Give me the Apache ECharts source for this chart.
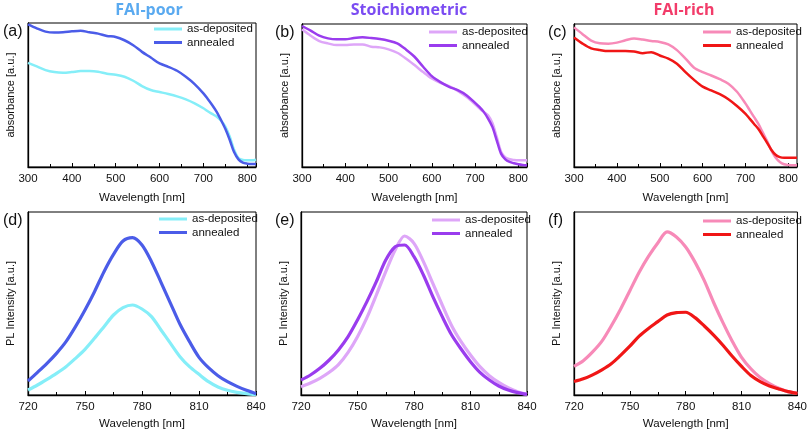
<!DOCTYPE html>
<html>
<head>
<meta charset="utf-8">
<script src="https://cdn.jsdelivr.net/npm/echarts@6/dist/echarts.min.js"></script>
<style>html,body{margin:0;padding:0;background:#fff;}#c{width:810px;height:433px;}</style>
</head>
<body>
<div id="c"></div>
<script>
// ---- Absorbance data (arbitrary units) ----
var absWL = [300,320,340,360,380,400,420,440,460,480,500,520,540,560,580,600,620,640,660,680,700,710,720,730,740,750,760,770,780,790,800,810,820];
var aAsDep = [314,303,292,286,284,286,289,289,287,281,278,272,260,244,232,226,220,213,204,192,177,168,160,152,140,122,92,52,27,21,20,20,22];
var aAnn   = [430,418,408,405,406,409,411,406,402,395,392,382,367,347,330,312,302,290,272,250,222,205,187,167,142,115,82,45,23,13,10,9,9];
var bAsDep = [412,393,377,370,365,365,367,367,360,358,352,342,325,305,284,265,252,242,228,210,188,176,165,155,132,90,46,29,23,21,20,20,20];
var bAnn   = [422,408,393,385,382,382,386,388,386,383,378,370,352,330,300,272,254,240,230,215,192,180,165,145,120,80,40,23,15,11,8,6,5];
var cAsDep = [412,392,373,365,364,367,374,379,376,372,369,362,345,320,293,280,270,259,246,222,187,167,147,127,102,77,50,28,15,8,6,5,5];
var cAnn   = [382,364,350,345,342,342,342,341,336,339,329,320,305,280,257,237,226,215,200,180,157,142,127,112,92,72,51,36,29,27,27,27,27];

// ---- PL data (arbitrary units) ----
var plWL = [720,725,730,735,740,745,750,755,760,765,770,775,780,785,790,795,800,805,810,815,820,825,830,835,840];
var dAsDep = [15,30,47,65,85,110,137,170,205,240,262,270,258,235,195,155,115,85,62,40,24,14,8,4,1];
var dAnn   = [42,68,95,125,160,205,255,310,370,422,462,472,450,400,338,275,212,160,113,82,58,40,26,14,4];
var eAsDep = [25,36,50,68,92,128,175,232,300,370,435,477,455,400,335,270,208,160,120,85,58,38,22,10,2];
var eAnn   = [45,60,80,105,136,175,225,280,340,405,445,450,415,360,295,235,180,138,100,68,45,27,15,7,2];
var fAsDep = [85,102,128,160,205,255,310,365,412,452,485,470,440,395,340,275,215,160,112,78,52,34,20,10,5];
var fAnn   = [40,48,60,75,93,118,145,175,198,218,238,245,246,230,205,178,148,115,85,58,40,27,18,10,5];

var absTicks = {min:300, max:820, interval:100};
var plTicks = {min:720, max:840, interval:30};
var panelTitles = ['FAI-poor','Stoichiometric','FAI-rich'];
var panelLetters = ['(a)','(b)','(c)','(d)','(e)','(f)'];
var seriesNames = ['as-deposited','annealed'];

var colors = [
  ['#85eef8','#4b5ce8'],
  ['#dea6f8','#9a3cee'],
  ['#f78ab8','#f01616']
];
var titleColors = ['#5aaaf0','#7b4cf2','#f23c6a'];

var grids = [
  {left:28, top:23, width:228, height:144},
  {left:302, top:24, width:225, height:143},
  {left:574, top:24, width:223, height:143},
  {left:28, top:212, width:228, height:183},
  {left:301, top:212, width:226, height:183},
  {left:574, top:212, width:225, height:183}
];
var yMax = [434, 428, 422, 549, 549, 544];
var legendPos = [[154,23],[429,26],[703,26],[159,213],[432,214],[703,215]];
var absSets = [[aAsDep,aAnn],[bAsDep,bAnn],[cAsDep,cAnn]];
var plSets = [[dAsDep,dAnn],[eAsDep,eAnn],[fAsDep,fAnn]];

var FONT = 'Liberation Sans, Arial, sans-serif';
var xAxes = [], yAxes = [], series = [], legends = [];
for (var i = 0; i < 6; i++) {
  var isAbs = i < 3;
  var t = isAbs ? absTicks : plTicks;
  grids[i].show = true;
  grids[i].borderColor = '#000';
  grids[i].borderWidth = 1;
  grids[i].containLabel = false;
  xAxes.push({
    type:'value', gridIndex:i, min:t.min, max:t.max, interval:t.interval,
    name:'Wavelength [nm]', nameLocation:'middle', nameGap: isAbs ? 25 : 23,
    nameTextStyle:{fontFamily:FONT, fontSize:11.5, color:'#111'},
    axisLine:{show:true, onZero:false, lineStyle:{color:'#000', width:1.3}},
    axisTick:{show:true, inside:true, length:4, lineStyle:{color:'#000', width:1}},
    minorTick:{show:true, splitNumber:2, length:3, lineStyle:{color:'#000', width:1}},
    axisLabel:{fontFamily:FONT, fontSize:11.5, color:'#111', margin:6, showMaxLabel: !isAbs},
    splitLine:{show:false}
  });
  yAxes.push({
    type:'value', gridIndex:i, min:0, max:yMax[i],
    name: isAbs ? 'absorbance [a.u.]' : 'PL Intensity [a.u.]',
    nameLocation:'middle', nameGap:12, nameRotate:90,
    nameTextStyle:{fontFamily:FONT, fontSize:11, color:'#111'},
    axisLine:{show:true, lineStyle:{color:'#000', width:1.3}},
    axisTick:{show:false}, axisLabel:{show:false}, splitLine:{show:false}
  });
  var col = colors[i % 3];
  var sets = isAbs ? absSets[i] : plSets[i - 3];
  var wl = isAbs ? absWL : plWL;
  var names = [];
  for (var k = 0; k < 2; k++) {
    var nm = panelLetters[i] + '|' + seriesNames[k];
    names.push(nm);
    var vals = sets[k];
    series.push({
      type:'line', name:nm, xAxisIndex:i, yAxisIndex:i,
      data: wl.map(function(w, j){ return [w, vals[j]]; }),
      symbol:'none', smooth:0.3, color:col[k],
      lineStyle:{color:col[k], width: isAbs ? 2.5 : 3.2},
      z: 2 + k
    });
  }
  legends.push({
    data:names, orient:'vertical', left:legendPos[i][0], top:legendPos[i][1],
    padding:0, itemGap:1.5, itemWidth:28, itemHeight:3, icon:'rect',
    selectedMode:false,
    formatter:function(n){ return n.split('|')[1]; },
    textStyle:{fontFamily:FONT, fontSize:11.5, color:'#111'}
  });
}

var graphics = [];
var titleX = [149, 409, 684];
for (var p = 0; p < 3; p++) {
  graphics.push({type:'text', x:titleX[p], y:10, style:{
    text:panelTitles[p], fill:titleColors[p], font:'bold 16px "Open Sans", sans-serif',
    align:'center', verticalAlign:'middle'}});
}
var letterPos = [[3,32],[275,33],[548,33],[3,221],[275,221],[548,221]];
for (var q = 0; q < 6; q++) {
  graphics.push({type:'text', x:letterPos[q][0], y:letterPos[q][1], style:{
    text:panelLetters[q], fill:'#111', font:'16px "Liberation Sans", Arial, sans-serif',
    align:'left', verticalAlign:'middle'}});
}

var chart = echarts.init(document.getElementById('c'), null, {renderer:'canvas'});
chart.setOption({
  animation:false,
  backgroundColor:'#fff',
  grid:grids, xAxis:xAxes, yAxis:yAxes, series:series, legend:legends,
  graphic:graphics
});
</script>
</body>
</html>
